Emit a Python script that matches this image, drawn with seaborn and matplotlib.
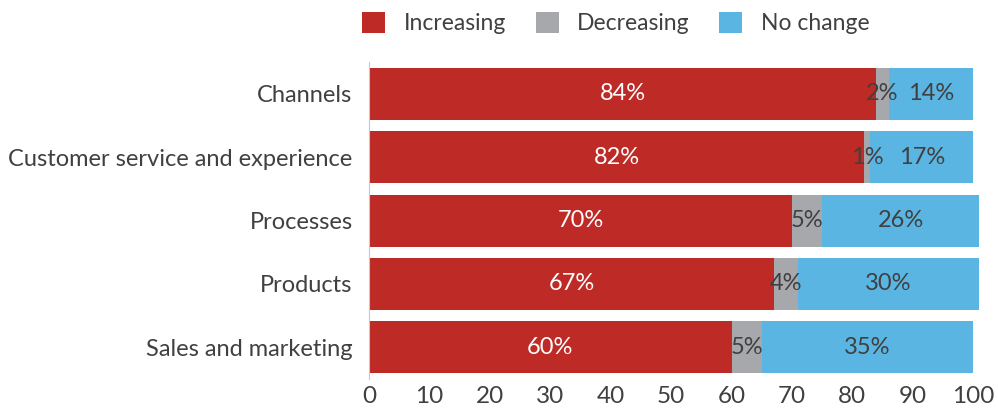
import matplotlib
matplotlib.use("Agg")
import matplotlib.pyplot as plt
import seaborn as sns
import pandas as pd
import numpy as np
from matplotlib.patches import Patch

categories = ["Channels", "Customer service and experience", "Processes", "Products", "Sales and marketing"]
increasing = [84, 82, 70, 67, 60]
decreasing = [2, 1, 5, 4, 5]
no_change = [14, 17, 26, 30, 35]
series_names = ["Increasing", "Decreasing", "No change"]
colors = ["#BE2A26", "#A7A8AB", "#5BB5E2"]
text_col = "#404040"

sns.set_theme(style="white")
plt.rcParams["font.family"] = ["Lato", "DejaVu Sans"]

df = pd.DataFrame({"cat": categories, "inc": increasing, "dec": decreasing, "noc": no_change})
df["c1"] = df["inc"]
df["c2"] = df["inc"] + df["dec"]
df["c3"] = df["c2"] + df["noc"]

fig = plt.figure(figsize=(9.98, 4.12), dpi=100)
ax = fig.add_axes([0.37, 0.08, 0.975 - 0.37, 0.769])

for col, c in zip(["c3", "c2", "c1"], colors[::-1]):
    sns.barplot(data=df, y="cat", x=col, orient="h", color=c, width=0.82,
                saturation=1, ax=ax, clip_on=False, linewidth=0)

ax.set_xlim(0, 100)
ax.set_xticks(np.arange(0, 101, 10))
ax.set_xlabel("")
ax.set_ylabel("")
ax.tick_params(axis="x", labelsize=17.5, colors=text_col, length=0, pad=5)
ax.tick_params(axis="y", labelsize=17, colors=text_col, length=0, pad=12)
for s in ["top", "right", "bottom"]:
    ax.spines[s].set_visible(False)
ax.spines["left"].set_color("#C8C8C8")
ax.spines["left"].set_linewidth(0.8)

for i in range(len(categories)):
    starts = [0, increasing[i], increasing[i] + decreasing[i]]
    vals = [increasing[i], decreasing[i], no_change[i]]
    for j, (s, v) in enumerate(zip(starts, vals)):
        ax.text(s + v / 2, i, f"{v}%", ha="center", va="center", fontsize=17,
                color="white" if j == 0 else text_col)

handles = [Patch(facecolor=c, edgecolor="none") for c in colors]
fig.legend(handles, series_names, loc="upper center", bbox_to_anchor=(0.617, 1.02),
           ncol=3, frameon=False, fontsize=16.5, handlelength=1.0, handleheight=1.0,
           columnspacing=1.3, handletextpad=0.8, labelcolor=text_col)

fig.savefig("out.png", dpi=100)
